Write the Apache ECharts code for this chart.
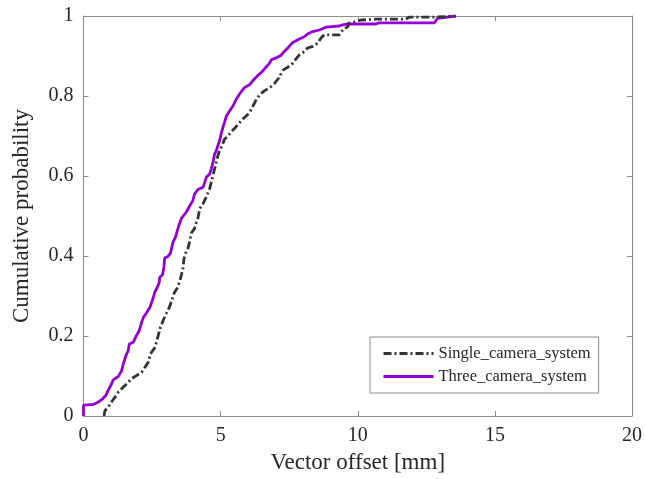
<!DOCTYPE html>
<html>
<head>
<meta charset="utf-8">
<script src="https://cdn.jsdelivr.net/npm/echarts@6/dist/echarts.min.js"></script>
<style>
  html, body { margin: 0; padding: 0; background: #fff; }
  #main { width: 645px; height: 479px; }
</style>
</head>
<body>
<div id="main"></div>
<script>
// series names
var seriesNames = ['Single_camera_system', 'Three_camera_system'];

// empirical CDF, single camera: [offset mm, probability]
var singleCam = [
  [0.75,0],[0.78,0.013],[0.90,0.022],[1.02,0.035],[1.15,0.047],[1.27,0.060],[1.39,0.068],
  [1.57,0.080],[1.75,0.093],[1.93,0.101],[2.12,0.109],[2.24,0.122],[2.36,0.134],[2.44,0.155],
  [2.60,0.171],[2.66,0.184],[2.72,0.200],[2.80,0.221],[2.90,0.238],[3.00,0.254],[3.12,0.270],
  [3.22,0.289],[3.31,0.308],[3.42,0.320],[3.51,0.337],[3.57,0.353],[3.63,0.370],[3.65,0.387],
  [3.69,0.403],[3.81,0.419],[3.87,0.436],[3.93,0.457],[4.05,0.469],[4.12,0.486],[4.17,0.494],
  [4.24,0.519],[4.36,0.531],[4.48,0.548],[4.60,0.568],[4.66,0.585],[4.72,0.601],[4.78,0.618],
  [4.84,0.634],[4.90,0.651],[4.96,0.663],[5.08,0.680],[5.14,0.692],[5.27,0.700],[5.39,0.711],
  [5.55,0.722],[5.70,0.734],[5.85,0.745],[6.05,0.758],[6.18,0.775],[6.30,0.791],[6.45,0.805],
  [6.62,0.814],[6.80,0.821],[6.96,0.831],[7.12,0.845],[7.21,0.857],[7.30,0.866],[7.45,0.872],
  [7.62,0.881],[7.75,0.893],[7.87,0.903],[8.05,0.911],[8.17,0.920],[8.36,0.924],[8.54,0.932],
  [8.66,0.945],[8.78,0.953],[9.33,0.953],[9.45,0.965],[9.63,0.973],[9.69,0.982],[9.93,0.986],
  [10.12,0.990],[10.66,0.992],[11.75,0.992],[11.87,0.997],[12.78,0.997],[13.56,1.0]
];

// empirical CDF, three cameras
var threeCam = [
  [0,0],[0,0.027],[0.36,0.029],[0.54,0.035],[0.70,0.043],[0.82,0.052],[0.90,0.064],[1.02,0.080],
  [1.08,0.090],[1.27,0.099],[1.39,0.113],[1.45,0.130],[1.51,0.143],[1.57,0.155],[1.63,0.163],
  [1.67,0.180],[1.81,0.184],[1.87,0.188],[1.93,0.201],[2.03,0.213],[2.12,0.234],[2.18,0.246],
  [2.30,0.258],[2.42,0.272],[2.48,0.283],[2.54,0.295],[2.60,0.310],[2.68,0.320],[2.76,0.333],
  [2.78,0.347],[2.88,0.353],[2.93,0.370],[2.96,0.395],[3.08,0.399],[3.17,0.407],[3.21,0.419],
  [3.27,0.436],[3.36,0.448],[3.41,0.461],[3.48,0.477],[3.57,0.494],[3.75,0.510],[3.87,0.525],
  [3.99,0.539],[4.05,0.555],[4.17,0.566],[4.36,0.572],[4.42,0.584],[4.48,0.597],[4.60,0.605],
  [4.66,0.618],[4.72,0.634],[4.78,0.655],[4.84,0.663],[4.90,0.676],[4.96,0.688],[5.02,0.705],
  [5.08,0.721],[5.14,0.734],[5.21,0.750],[5.32,0.762],[5.45,0.775],[5.57,0.792],[5.69,0.805],
  [5.87,0.821],[6.05,0.828],[6.17,0.838],[6.35,0.851],[6.50,0.860],[6.60,0.868],[6.75,0.879],
  [6.86,0.891],[7.05,0.896],[7.21,0.902],[7.33,0.912],[7.50,0.924],[7.63,0.934],[7.85,0.942],
  [8.05,0.948],[8.17,0.955],[8.36,0.961],[8.60,0.965],[8.84,0.972],[8.96,0.973],[9.33,0.975],
  [9.45,0.978],[9.63,0.980],[10.66,0.980],[10.78,0.983],[12.80,0.983],[12.90,0.994],[13.58,1.0]
];

var font = 'Liberation Serif';
var axisColor = '#8c8c8c';
var textColor = '#262626';

var myChart = echarts.init(document.getElementById('main'));

// x / y axis, plus a mirrored copy for the box (ticks only)
function xAx(pos, showLabel) {
  return {
    type: 'value', position: pos, min: 0, max: 20, interval: 5,
    name: showLabel ? 'Vector offset [mm]' : '',
    nameLocation: 'middle', nameGap: 35,
    nameTextStyle: { fontFamily: font, fontSize: 23, color: textColor },
    axisLine: { show: true, onZero: false, lineStyle: { color: axisColor, width: 1 } },
    axisTick: { show: true, inside: true, length: 5, lineStyle: { color: axisColor } },
    axisLabel: { show: showLabel, margin: 10, fontFamily: font, fontSize: 20, color: textColor },
    splitLine: { show: false }
  };
}
function yAx(pos, showLabel) {
  return {
    type: 'value', position: pos, min: 0, max: 1, interval: 0.2,
    name: showLabel ? 'Cumulative probability' : '',
    nameLocation: 'middle', nameGap: 50,
    nameTextStyle: { fontFamily: font, fontSize: 23, color: textColor },
    axisLine: { show: true, onZero: false, lineStyle: { color: axisColor, width: 1 } },
    axisTick: { show: true, inside: true, length: 5, lineStyle: { color: axisColor } },
    axisLabel: { show: showLabel, margin: 10, fontFamily: font, fontSize: 20, color: textColor },
    splitLine: { show: false }
  };
}

var option = {
  animation: false,
  backgroundColor: '#fff',
  grid: { left: 83.5, right: 11.5, top: 16, bottom: 60 },
  xAxis: [xAx('bottom', true), xAx('top', false)],
  yAxis: [yAx('left', true), yAx('right', false)],
  legend: {
    orient: 'vertical',
    left: 370, top: 337,
    padding: [8, 8, 8, 12],
    itemGap: 6,
    itemWidth: 50, itemHeight: 14,
    backgroundColor: '#fff',
    borderColor: axisColor, borderWidth: 1,
    itemStyle: { opacity: 0 },
    lineStyle: { width: 3 },
    textStyle: { fontFamily: font, fontSize: 16.5, color: textColor },
    data: seriesNames
  },
  series: [
    {
      name: seriesNames[0], type: 'line', data: singleCam,
      symbol: 'none', showSymbol: false,
      lineStyle: { color: '#333333', width: 2.8, type: [8, 3, 2, 3] },
      itemStyle: { color: '#333333' },
      z: 3
    },
    {
      name: seriesNames[1], type: 'line', data: threeCam,
      symbol: 'none', showSymbol: false,
      lineStyle: { color: '#9400d3', width: 2.8 },
      itemStyle: { color: '#9400d3' },
      z: 2
    }
  ]
};

myChart.setOption(option);
</script>
</body>
</html>
